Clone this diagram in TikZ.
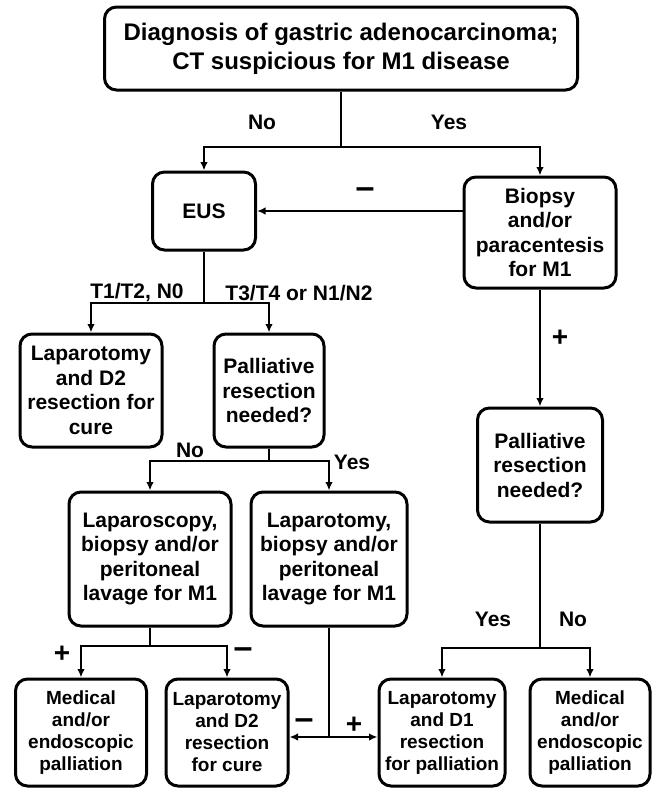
\documentclass[tikz,border=0pt]{standalone}
\usepackage{fontspec}
\setmainfont{Liberation Sans}
\usetikzlibrary{arrows.meta,calc,positioning}

\begin{document}
\begin{tikzpicture}[x=1pt,y=-1pt,>={Latex[length=8.5pt,width=7.5pt]},
  box/.style={draw=black,line width=3pt,rounded corners=12pt,align=center,inner sep=0pt,
    font=\bfseries\fontsize{21}{24.5}\selectfont},
  lowbox/.style={box,font=\bfseries\fontsize{19}{22}\selectfont,minimum height=107pt},
  conn/.style={black,line width=2pt},
  lbl/.style={font=\bfseries\fontsize{21}{24}\selectfont,inner sep=0pt},
  sign/.style={font=\bfseries\fontsize{28}{28}\selectfont,inner sep=0pt},
  minus/.style={font=\bfseries\fontsize{34}{34}\selectfont,inner sep=0pt}]

\path[fill=white,use as bounding box] (0,0) rectangle (652,790);

\node[box,font=\bfseries\fontsize{24}{29}\selectfont,minimum width=473pt,minimum height=83pt] (diag) at (341,48.5)
  {Diagnosis of gastric adenocarcinoma;\\CT suspicious for M1 disease};

\node[box,minimum width=103pt,minimum height=78pt] (eus) at (204,211) {EUS};
\node[box,minimum width=152pt,minimum height=111pt] (biopsy) at (540,232.5) {Biopsy\\and/or\\paracentesis\\for M1};

\node[box,minimum width=142pt,minimum height=113pt] (lapcure) at (91,390.5) {Laparotomy\\and D2\\resection for\\cure};
\node[box,minimum width=110pt,minimum height=113pt] (pallmid) at (269,390.5) {Palliative\\resection\\needed?};
\node[box,minimum width=125pt,minimum height=114pt] (pallright) at (540,465) {Palliative\\resection\\needed?};

\node[box,minimum width=162pt,minimum height=134pt] (lapscopy) at (150,559) {Laparoscopy,\\biopsy and/or\\peritoneal\\lavage for M1};
\node[box,minimum width=156pt,minimum height=134pt] (laptomy) at (329,559) {Laparotomy,\\biopsy and/or\\peritoneal\\lavage for M1};

\node[lowbox,minimum width=131pt] (medleft) at (81,732.5) {Medical\\and/or\\endoscopic\\palliation};
\node[lowbox,minimum width=122pt] (lapdtwo) at (227,732.5) {Laparotomy\\and D2\\resection\\for cure};
\node[lowbox,minimum width=126pt] (lapdone) at (442,732.5) {Laparotomy\\and D1\\resection\\for palliation};
\node[lowbox,minimum width=120pt] (medright) at (590,732.5) {Medical\\and/or\\endoscopic\\palliation};

\path
  (341,147) coordinate (j1)
  (204,303) coordinate (j2)
  (269,461) coordinate (j3)
  (150,646) coordinate (j4)
  (329,737) coordinate (j5)
  (540,648) coordinate (j6);

\draw[conn] (diag.south) -- (j1);
\draw[conn,->] (j1) -| (eus.north);
\draw[conn,->] (j1) -| (biopsy.north);
\draw[conn,->] (biopsy.west |- eus) -- (eus.east);

\draw[conn] (eus.south) -- (j2);
\draw[conn,->] (j2) -| (lapcure.north);
\draw[conn,->] (j2) -| (pallmid.north);

\draw[conn,->] (biopsy.south) -- (pallright.north);

\draw[conn] (pallmid.south) -- (j3);
\draw[conn,->] (j3) -| (lapscopy.north);
\draw[conn,->] (j3) -| (laptomy.north);

\draw[conn] (lapscopy.south) -- (j4);
\draw[conn,->] (j4) -| (medleft.north);
\draw[conn,->] (j4) -| (lapdtwo.north);

\draw[conn] (laptomy.south) -- (j5);
\draw[conn,<->] (lapdtwo.east |- j5) -- (lapdone.west |- j5);

\draw[conn] (pallright.south) -- (j6);
\draw[conn,->] (j6) -| (lapdone.north);
\draw[conn,->] (j6) -| (medright.north);

\node[lbl] (noa) at (262,122) {No};
\node[lbl] (yesa) at (449,122) {Yes};
\node[minus] (nega) at (365,193) {–};
\node[lbl] (tlow) at (137,293) {T1/T2, N0};
\node[lbl] (thigh) at (299,293) {T3/T4 or N1/N2};
\node[sign] (posa) at (560,338) {+};
\node[lbl] (nob) at (190,450) {No};
\node[lbl] (yesb) at (352,462) {Yes};
\node[lbl] (yesc) at (493,619) {Yes};
\node[lbl] (noc) at (573,619) {No};
\node[sign] (posb) at (62,654) {+};
\node[minus] (negb) at (243,653) {–};
\node[minus] (negc) at (304,724) {–};
\node[sign] (posc) at (354,725) {+};

\end{tikzpicture}
\end{document}
